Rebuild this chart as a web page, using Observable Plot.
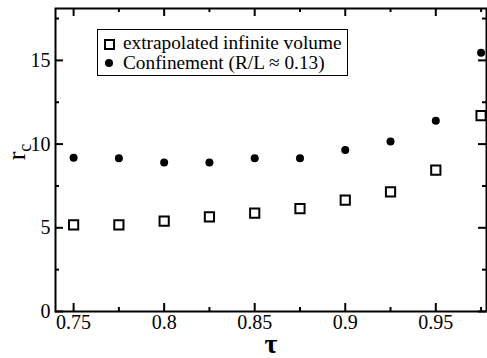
<!DOCTYPE html>
<html><head><meta charset="utf-8">
<script src="https://cdn.jsdelivr.net/npm/d3@7"></script>
<script src="https://cdn.jsdelivr.net/npm/@observablehq/plot@0.6"></script>
<style>
body{margin:0;background:#fff;}
#wrap{position:relative;width:487px;height:358px;font-family:'Times New Roman','Liberation Serif','DejaVu Serif',serif;}
svg text{font-family:'Times New Roman','Liberation Serif','DejaVu Serif',serif !important;}
#legend{position:absolute;left:97px;top:29px;width:251px;height:47px;border:1px solid #000;background:#fff;font-size:19.3px;line-height:20px;box-sizing:border-box;padding-top:3px;}
#legend div{position:relative;padding-left:25px;white-space:nowrap;}
#legend .sq{position:absolute;left:6px;top:6px;width:7px;height:7px;border:2px solid #000;}
#legend .ci{position:absolute;left:7px;top:6px;width:8px;height:8px;border-radius:50%;background:#000;}
</style></head>
<body><div id="wrap"><div id="chart"></div>
<div id="legend"><div><span class="sq"></span>extrapolated infinite volume</div><div><span class="ci"></span>Confinement (R/L ≈ 0.13)</div></div></div>
<script>
const tau = [0.75, 0.775, 0.8, 0.825, 0.85, 0.875, 0.9, 0.925, 0.95, 0.975];
const infiniteVolume = [5.18, 5.18, 5.4, 5.65, 5.88, 6.15, 6.65, 7.15, 8.45, 11.7];
const confinement = [9.18, 9.15, 8.9, 8.9, 9.15, 9.15, 9.65, 10.15, 11.4, 15.45];
const xMajor = [0.75, 0.8, 0.85, 0.9, 0.95];
const xMinor = [0.775, 0.825, 0.875, 0.925, 0.975];
const yMajor = [0, 5, 10, 15];
const yMinor = [2.5, 7.5, 12.5, 17.5];
const xLabels = ["0.75", "0.8", "0.85", "0.9", "0.95"];

const sq = tau.map((t, i) => ({t, v: infiniteVolume[i]}));
const ci = tau.map((t, i) => ({t, v: confinement[i]}));

const W = 487, H = 358, mL = 55, mR = 1, mT = 8, mB = 47;
const pw = W - mL - mR, ph = H - mT - mB;
const serif = "'Times New Roman', 'Liberation Serif', 'DejaVu Serif', serif";

const plot = Plot.plot({
  width: W, height: H,
  marginLeft: mL, marginRight: mR, marginTop: mT, marginBottom: mB,
  style: {fontFamily: serif, fontSize: "20px", color: "#000", background: "#fff"},
  x: {domain: [0.74, 0.978], label: null},
  y: {domain: [0, 18.1], label: null},
  marks: [
    Plot.axisX(xMajor, {tickSize: 0, tickPadding: 3, tickFormat: d => xLabels[xMajor.indexOf(d)], fontSize: 20}),
    Plot.axisY(yMajor, {tickSize: 0, tickPadding: 5, tickFormat: d => String(d), fontSize: 20}),
    Plot.tickX(xMajor, {x: d => d, insetTop: ph - 8, strokeWidth: 2}),
    Plot.tickX(xMajor, {x: d => d, insetBottom: ph - 8, strokeWidth: 2}),
    Plot.tickX(xMinor, {x: d => d, insetTop: ph - 4, strokeWidth: 2}),
    Plot.tickX(xMinor, {x: d => d, insetBottom: ph - 4, strokeWidth: 2}),
    Plot.tickY(yMajor, {y: d => d, insetRight: pw - 8, strokeWidth: 2}),
    Plot.tickY(yMajor, {y: d => d, insetLeft: pw - 8, strokeWidth: 2}),
    Plot.tickY(yMinor, {y: d => d, insetRight: pw - 4, strokeWidth: 2}),
    Plot.tickY(yMinor, {y: d => d, insetLeft: pw - 4, strokeWidth: 2}),
    Plot.frame({stroke: "#000", strokeWidth: 2}),
    Plot.dot(sq, {x: "t", y: "v", symbol: "square", r: 5.2, stroke: "#000", strokeWidth: 2, fill: "none"}),
    Plot.dot(ci, {x: "t", y: "v", r: 4, fill: "#000", stroke: "none"})
  ]
});
document.getElementById("chart").appendChild(plot);

const svg = d3.select(plot);
const yl = svg.append("text")
  .attr("transform", "translate(25,152) rotate(-90)")
  .attr("text-anchor", "middle")
  .style("font-size", "26px")
  .attr("fill", "#000");
yl.append("tspan").text("r");
yl.append("tspan").attr("dy", 6).style("font-size", "18px").text("c");
svg.append("text")
  .attr("x", 271).attr("y", 353)
  .attr("text-anchor", "middle")
  .style("font-size", "28px").style("font-weight", "bold")
  .attr("fill", "#000").text("τ");
</script></body></html>
